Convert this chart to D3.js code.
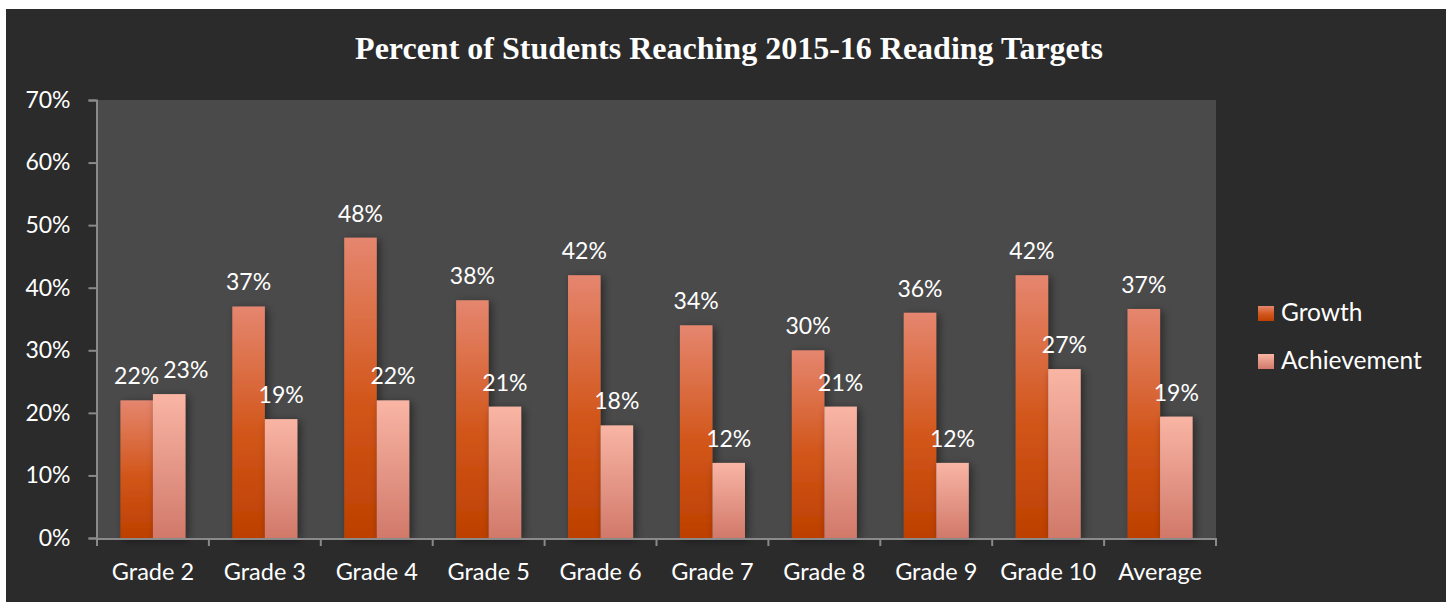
<!DOCTYPE html>
<html>
<head>
<meta charset="utf-8">
<script src="https://cdn.jsdelivr.net/npm/d3@7"></script>
<style>
  html, body { margin: 0; padding: 0; background: #ffffff; }
  svg { display: block; }
</style>
</head>
<body>
<svg id="chart"></svg>
<script>
// data
let categories = ["Grade 2", "Grade 3", "Grade 4", "Grade 5", "Grade 6", "Grade 7", "Grade 8", "Grade 9", "Grade 10", "Average"];
let seriesNames = ["Growth", "Achievement"];
let growth = [0.22, 0.37, 0.48, 0.38, 0.42, 0.34, 0.30, 0.36, 0.42, 0.366];
let achievement = [0.23, 0.19, 0.22, 0.21, 0.18, 0.12, 0.21, 0.12, 0.27, 0.194];
let yTicks = [0, 0.1, 0.2, 0.3, 0.4, 0.5, 0.6, 0.7];
let title = "Percent of Students Reaching 2015-16 Reading Targets";

let width = 1446;
let height = 602;
let labelFont = "Lato, 'Open Sans', sans-serif";

let svg = d3.select("#chart")
  .attr("width", width)
  .attr("height", height)
  .attr("viewBox", `0 0 ${width} ${height}`);

// gradients + shadow
let defs = svg.append("defs");
let gradStops = {
  Growth: [["0%", "#e5866f"], ["55%", "#d2561a"], ["100%", "#bd4000"]],
  Achievement: [["0%", "#f9b5a4"], ["100%", "#d1796a"]]
};
seriesNames.forEach(function (s) {
  let g = defs.append("linearGradient")
    .attr("id", "grad-" + s)
    .attr("x1", 0).attr("y1", 0).attr("x2", 0).attr("y2", 1);
  gradStops[s].forEach(function (st) {
    g.append("stop").attr("offset", st[0]).attr("stop-color", st[1]);
  });
});
let shadow = defs.append("filter").attr("id", "shadow")
  .attr("x", "-50%").attr("y", "-10%").attr("width", "200%").attr("height", "120%");
shadow.append("feDropShadow")
  .attr("dx", 3).attr("dy", 2).attr("stdDeviation", 4)
  .attr("flood-color", "#000").attr("flood-opacity", 0.45);

// chart background
svg.append("rect")
  .attr("x", 6).attr("y", 9)
  .attr("width", width - 6).attr("height", height - 9)
  .attr("fill", "#2b2b2b");

// scales
let plot = { left: 97, right: 1216, top: 100, bottom: 538 };

let x0 = d3.scaleBand()
  .domain(categories)
  .range([plot.left, plot.right])
  .padding(0);

let x1 = d3.scaleBand()
  .domain(seriesNames)
  .range([0, x0.bandwidth()])
  .paddingInner(0)
  .paddingOuter(0.72);

let y = d3.scaleLinear()
  .domain([0, 0.7])
  .range([plot.bottom, plot.top]);

// plot area
svg.append("rect")
  .attr("x", plot.left).attr("y", plot.top)
  .attr("width", plot.right - plot.left).attr("height", plot.bottom - plot.top)
  .attr("fill", "#4a4a4a");

// title
svg.append("text")
  .attr("x", 729)
  .attr("y", 59)
  .attr("text-anchor", "middle")
  .style("font-family", "'Liberation Serif', 'Times New Roman', serif")
  .style("font-weight", "bold")
  .style("font-size", "32px")
  .style("fill", "#ffffff")
  .text(title);

// bars
let rows = categories.map(function (c, i) {
  return { cat: c, values: [
    { key: "Growth", value: growth[i] },
    { key: "Achievement", value: achievement[i] }
  ] };
});

let groups = svg.append("g")
  .selectAll("g")
  .data(rows)
  .enter()
  .append("g")
  .attr("transform", function (d) { return "translate(" + x0(d.cat) + ",0)"; });

groups.selectAll("rect")
  .data(function (d) { return d.values; })
  .enter()
  .append("rect")
  .attr("x", function (d) { return x1(d.key); })
  .attr("y", function (d) { return y(d.value); })
  .attr("width", x1.bandwidth())
  .attr("height", function (d) { return y(0) - y(d.value); })
  .attr("fill", function (d) { return "url(#grad-" + d.key + ")"; })
  .attr("filter", "url(#shadow)");

groups.selectAll("text")
  .data(function (d) { return d.values; })
  .enter()
  .append("text")
  .attr("x", function (d) { return x1(d.key) + x1.bandwidth() / 2; })
  .attr("y", function (d) { return y(d.value) - 16; })
  .attr("text-anchor", "middle")
  .style("font-family", labelFont)
  .style("font-size", "23px")
  .style("fill", "#ffffff")
  .text(function (d) { return Math.round(d.value * 100) + "%"; });

// nudge the second label right when the pair collides (like Excel does)
groups.each(function () {
  let labels = d3.select(this).selectAll("text").nodes();
  let a = labels[0].getBBox();
  let b = labels[1].getBBox();
  let vOverlap = a.y < b.y + b.height && b.y < a.y + a.height;
  let hOverlap = a.x + a.width + 4 - b.x;
  if (vOverlap && hOverlap > 0) {
    let lx = +d3.select(labels[1]).attr("x");
    d3.select(labels[1]).attr("x", lx + hOverlap);
  }
});

// y axis
let yAxis = svg.append("g")
  .attr("transform", "translate(" + (plot.left - 0.5) + ",0)")
  .call(d3.axisLeft(y).tickValues(yTicks).tickFormat(d3.format(".0%")).tickSize(8).tickPadding(18));
yAxis.select(".domain").attr("stroke", "#8a8a8a").attr("stroke-width", 2);
yAxis.selectAll(".tick line").attr("stroke", "#8a8a8a").attr("stroke-width", 2);
yAxis.selectAll(".tick text")
  .style("font-family", labelFont)
  .style("font-size", "23px")
  .attr("fill", "#ffffff");

// x axis
let xAxis = svg.append("g")
  .attr("transform", "translate(0," + (plot.bottom + 0.5) + ")")
  .call(d3.axisBottom(x0).tickSize(0).tickPadding(25));
xAxis.select(".domain").attr("stroke", "#8a8a8a").attr("stroke-width", 2);
xAxis.selectAll(".tick text")
  .style("font-family", labelFont)
  .style("font-size", "23.5px")
  .attr("fill", "#ffffff");

// category boundary ticks
let bounds = categories.map(function (c) { return x0(c); }).concat([plot.right]);
svg.append("g")
  .selectAll("line")
  .data(bounds)
  .enter()
  .append("line")
  .attr("x1", function (d) { return d; })
  .attr("x2", function (d) { return d; })
  .attr("y1", plot.bottom)
  .attr("y2", plot.bottom + 8)
  .attr("stroke", "#8a8a8a")
  .attr("stroke-width", 2);

// legend
let legend = svg.append("g")
  .selectAll("g")
  .data(seriesNames)
  .enter()
  .append("g")
  .attr("transform", function (d, i) { return "translate(1258," + (306 + i * 48) + ")"; });

legend.append("rect")
  .attr("width", 16)
  .attr("height", 15)
  .attr("fill", function (d) { return "url(#grad-" + d + ")"; });

legend.append("text")
  .attr("x", 23)
  .attr("y", 15)
  .style("font-family", labelFont)
  .style("font-size", "24.5px")
  .style("fill", "#ffffff")
  .text(function (d) { return d; });
</script>
</body>
</html>
